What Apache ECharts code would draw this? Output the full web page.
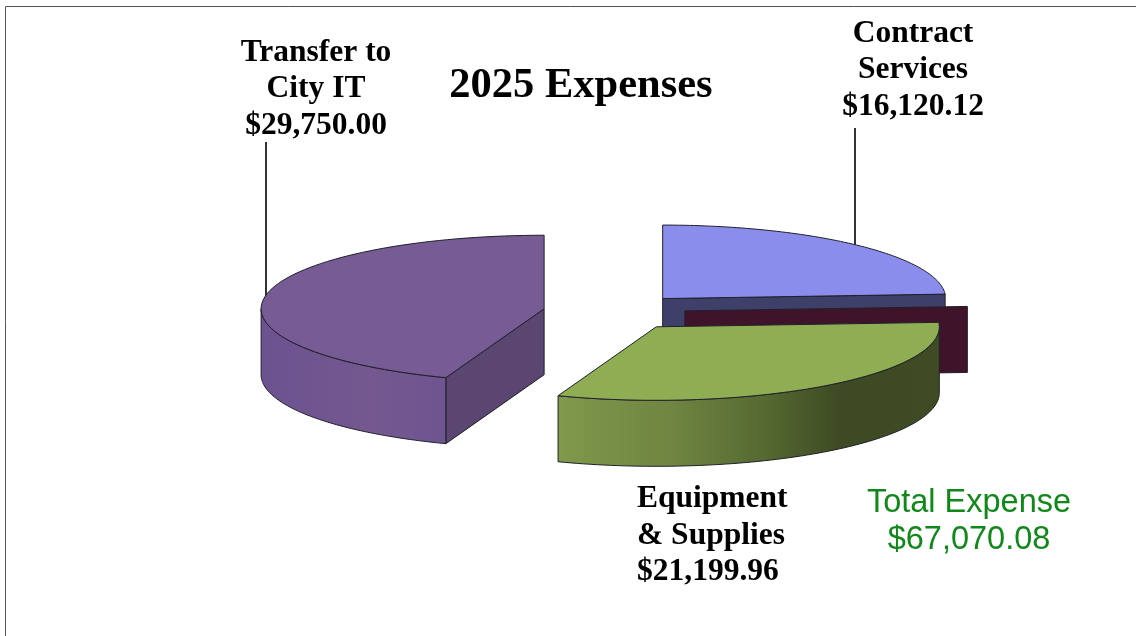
<!DOCTYPE html>
<html>
<head>
<meta charset="utf-8">
<title>2025 Expenses</title>
<script src="https://cdn.jsdelivr.net/npm/echarts@6/dist/echarts.min.js"></script>
<style>
  html, body { margin: 0; padding: 0; background: #fff; }
  #main { width: 1136px; height: 636px; }
</style>
</head>
<body>
<div id="main"></div>
<script>
// slice order follows the source sheet, the second row is an empty category
const categories = ['Contract Services', 'Unused', 'Equipment & Supplies', 'Transfer to City IT'];
const expenses = [16120.12, 0, 21199.96, 29750.00];

const topColors = ['#8b8dec', '#6b2040', '#8fae54', '#775b94'];
const faceColors = ['#3f4069', '#3f142a', '#3f4b23', '#5a4670'];

// pie projection
const centerX = 614;
const centerY = 312;
const radiusX = 283;
const radiusY = 73.5;
const depth = 66;
const explode = 71;
const edgeColor = '#20202a';

const fmt = v => '$' + v.toLocaleString('en-US', { minimumFractionDigits: 2, maximumFractionDigits: 2 });
const total = expenses.reduce((a, b) => a + b, 0);

// clockwise from 12 o'clock
let running = 0;
const slices = expenses.map(v => {
  const start = running / total * Math.PI * 2;
  running += v;
  const end = running / total * Math.PI * 2;
  const mid = (start + end) / 2;
  return {
    start,
    end,
    ax: centerX + explode * Math.sin(mid),
    ay: centerY - explode * (radiusY / radiusX) * Math.cos(mid)
  };
});

function rim(s, t, drop) {
  return [s.ax + radiusX * Math.sin(t), s.ay - radiusY * Math.cos(t) + (drop || 0)];
}

function arc(s, from, to, drop) {
  const pts = [];
  const n = 80;
  for (let i = 0; i <= n; i++) {
    pts.push(rim(s, from + (to - from) * i / n, drop));
  }
  return pts;
}

function face(s, t, fill) {
  const a = rim(s, t);
  return {
    type: 'polygon',
    shape: { points: [[s.ax, s.ay], a, [a[0], a[1] + depth], [s.ax, s.ay + depth]] },
    style: { fill: fill, stroke: edgeColor, lineWidth: 1 }
  };
}

function wallFill(i) {
  if (i === 2) {
    return new echarts.graphic.LinearGradient(0, 0, 1, 0, [
      { offset: 0, color: '#80994b' },
      { offset: 0.3, color: '#6f8541' },
      { offset: 0.55, color: '#546830' },
      { offset: 0.74, color: '#3e4a23' },
      { offset: 1, color: '#3f4b23' }
    ]);
  }
  return new echarts.graphic.LinearGradient(0, 0, 1, 0, [
    { offset: 0, color: '#6b5290' },
    { offset: 0.6, color: '#74588f' },
    { offset: 1, color: '#6e5490' }
  ]);
}

function renderSlice(params, api) {
  const i = api.value(0);
  const s = slices[i];
  const children = [];

  // cut faces that look towards the viewer
  if (Math.sin(s.end) > 1e-6) children.push(face(s, s.end, faceColors[i]));
  if (Math.sin(s.start) < -1e-6) children.push(face(s, s.start, faceColors[i]));

  // outer wall, only the front half of the rim shows
  const from = Math.max(s.start, Math.PI / 2);
  const to = Math.min(s.end, Math.PI * 1.5);
  if (to > from) {
    children.push({
      type: 'polygon',
      shape: { points: arc(s, from, to, 0).concat(arc(s, to, from, depth)) },
      style: { fill: wallFill(i), stroke: edgeColor, lineWidth: 1 }
    });
  }

  // top
  if (s.end > s.start) {
    children.push({
      type: 'polygon',
      shape: { points: [[s.ax, s.ay]].concat(arc(s, s.start, s.end, 0)) },
      style: { fill: topColors[i], stroke: edgeColor, lineWidth: 1 }
    });
  }
  return { type: 'group', children: children };
}

const labelFont = 'bold 31.5px "Liberation Serif"';

function label(text, x, y, align) {
  return {
    type: 'text',
    silent: true,
    style: {
      text: text,
      x: x,
      y: y,
      align: align,
      verticalAlign: 'middle',
      font: labelFont,
      lineHeight: 36.5,
      fill: '#000'
    }
  };
}

function leader(x, y1, y2) {
  return {
    type: 'line',
    silent: true,
    shape: { x1: x, y1: y1, x2: x, y2: y2 },
    style: { stroke: '#000', lineWidth: 1.6 }
  };
}

var myChart = echarts.init(document.getElementById('main'), null, { renderer: 'canvas' });
myChart.setOption({
  animation: false,
  backgroundColor: '#fff',
  title: {
    text: '2025 Expenses',
    left: 576,
    top: 60,
    textAlign: 'center',
    textStyle: {
      fontFamily: 'Liberation Serif',
      fontWeight: 'bold',
      fontSize: 42.5,
      color: '#000'
    }
  },
  graphic: [
    // sheet frame, runs off the right and bottom of the page
    { type: 'line', silent: true, shape: { x1: 5.5, y1: 6.5, x2: 1136, y2: 6.5 }, style: { stroke: '#555', lineWidth: 1 } },
    { type: 'line', silent: true, shape: { x1: 5.5, y1: 6.5, x2: 5.5, y2: 636 }, style: { stroke: '#555', lineWidth: 1 } },
    leader(266, 142, 298),
    leader(855, 128, 245),
    label('Transfer to\nCity IT\n' + fmt(expenses[3]), 316, 89, 'center'),
    label('Contract\nServices\n' + fmt(expenses[0]), 913, 70, 'center'),
    label('Equipment\n& Supplies\n' + fmt(expenses[2]), 637, 535.5, 'left'),
    {
      type: 'text',
      silent: true,
      style: {
        text: 'Total Expense\n' + fmt(total),
        x: 969,
        y: 521.5,
        align: 'center',
        verticalAlign: 'middle',
        font: '32.5px "Liberation Sans"',
        lineHeight: 37,
        fill: '#11881a'
      }
    }
  ],
  series: [
    {
      type: 'custom',
      coordinateSystem: 'none',
      silent: true,
      renderItem: renderSlice,
      data: categories.map((name, i) => ({ name: name, value: [i, expenses[i]] }))
    }
  ]
});
</script>
</body>
</html>
